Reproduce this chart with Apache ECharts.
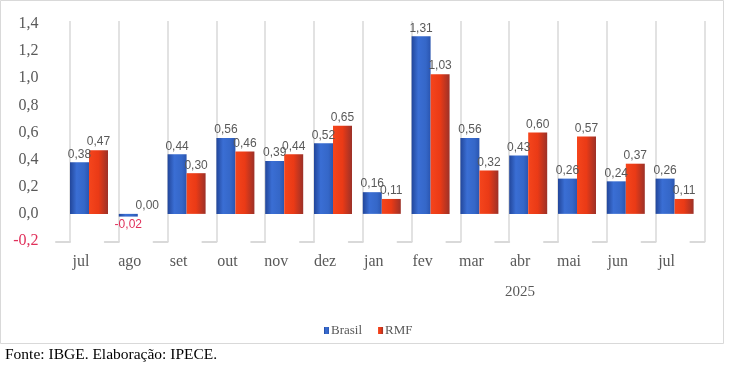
<!DOCTYPE html>
<html>
<head>
<meta charset="utf-8">
<script src="https://cdn.jsdelivr.net/npm/echarts@6/dist/echarts.min.js"></script>
<style>html,body{margin:0;padding:0;background:#fff;}#c{width:731px;height:366px;}</style>
</head>
<body>
<div id="c"></div>
<script>
const categories = ['jul','ago','set','out','nov','dez','jan','fev','mar','abr','mai','jun','jul'];
const brasil = [0.38, -0.02, 0.44, 0.56, 0.39, 0.52, 0.16, 1.31, 0.56, 0.43, 0.26, 0.24, 0.26];
const rmf    = [0.47, 0.00, 0.30, 0.46, 0.44, 0.65, 0.11, 1.03, 0.32, 0.60, 0.57, 0.37, 0.11];
const yearLabel = '2025';
const sourceText = 'Fonte: IBGE. Elaboração: IPECE.';

const SERIF = '"Liberation Serif", "DejaVu Serif", serif';
const SANS = '"Liberation Sans", Arial, sans-serif';
const NEG = '#e0305a';
const fmt = v => (Math.round(v * 100) / 100).toFixed(2).replace('.', ',');

function toData(arr) {
  return arr.map(v => v < 0 ? {value: v, label: {position: 'bottom', color: NEG}} : v);
}

const blueGrad = new echarts.graphic.LinearGradient(0, 0, 1, 0, [
  {offset: 0, color: '#22469a'}, {offset: 0.35, color: '#3a6ed4'}, {offset: 0.75, color: '#3567c8'}, {offset: 1, color: '#2a55b0'}
]);
const redGrad = new echarts.graphic.LinearGradient(0, 0, 1, 0, [
  {offset: 0, color: '#f5451c'}, {offset: 0.5, color: '#ea3a16'}, {offset: 1, color: '#9c3128'}
]);

const gridColors = ['rgba(0,0,0,0)'].concat(new Array(14).fill('#d9d9d9'));

const chart = echarts.init(document.getElementById('c'));
chart.setOption({
  animation: false,
  backgroundColor: '#fff',
  grid: [
    {left: 64.6, right: 32, top: 24, bottom: 125, containLabel: false},
    {left: 21.2, right: 26.6, top: 21, bottom: 124, containLabel: false}
  ],
  legend: {
    data: ['Brasil', 'RMF'],
    left: 319, top: 319,
    icon: 'rect', itemWidth: 5, itemHeight: 7, itemGap: 16,
    textStyle: {fontFamily: SERIF, fontSize: 13, color: '#595959', padding: [0, 0, 0, -3]}
  },
  xAxis: [
    {
      type: 'category', gridIndex: 0, data: categories,
      axisLine: {show: false}, axisTick: {show: false}, splitLine: {show: false},
      axisLabel: {fontFamily: SERIF, fontSize: 16, color: '#595959', margin: 13, padding: [0, 16, 0, 0], interval: 0}
    },
    {
      type: 'value', gridIndex: 1, min: -1, max: 13, interval: 1,
      axisLabel: {show: false}, axisTick: {show: false},
      axisLine: {show: true, lineStyle: {color: '#d9d9d9', width: 2, type: [14, 34.8], dashOffset: 14}},
      splitLine: {show: true, lineStyle: {color: gridColors, width: 1.5}}
    }
  ],
  yAxis: [
    {
      type: 'value', gridIndex: 0, min: -0.2, max: 1.4, interval: 0.2,
      axisLine: {show: false}, axisTick: {show: false}, splitLine: {show: false},
      axisLabel: {
        fontFamily: SERIF, fontSize: 16, margin: 26,
        formatter: v => v.toFixed(1).replace('.', ','),
        color: v => (v < 0 ? NEG : '#595959')
      }
    },
    {type: 'value', gridIndex: 1, show: false, min: 0, max: 1, splitLine: {show: false}}
  ],
  series: [
    {
      name: 'Brasil', type: 'bar', xAxisIndex: 0, yAxisIndex: 0,
      data: toData(brasil), barWidth: 19, barGap: '0%', z: 3,
      itemStyle: {color: blueGrad},
      label: {show: true, position: 'top', distance: 2, fontFamily: SANS, fontSize: 12, color: '#595959', formatter: p => fmt(p.value)}
    },
    {
      name: 'RMF', type: 'bar', xAxisIndex: 0, yAxisIndex: 0,
      data: toData(rmf), barWidth: 19, barGap: '0%', z: 3,
      itemStyle: {color: redGrad},
      label: {show: true, position: 'top', distance: 2, fontFamily: SANS, fontSize: 12, color: '#595959', formatter: p => fmt(p.value)}
    }
  ],
  graphic: [
    {type: 'rect', shape: {x: 0.5, y: 0.5, width: 723, height: 343}, style: {fill: 'none', stroke: '#d9d9d9', lineWidth: 1}, z: -10, silent: true},
    {type: 'text', x: 520, y: 292, style: {text: yearLabel, fontFamily: SERIF, fontSize: 15, fill: '#595959', align: 'center', verticalAlign: 'middle'}},
    {type: 'text', x: 5, y: 347, style: {text: sourceText, fontFamily: SERIF, fontSize: 15.5, fill: '#000', align: 'left', verticalAlign: 'top'}}
  ]
});
</script>
</body>
</html>
